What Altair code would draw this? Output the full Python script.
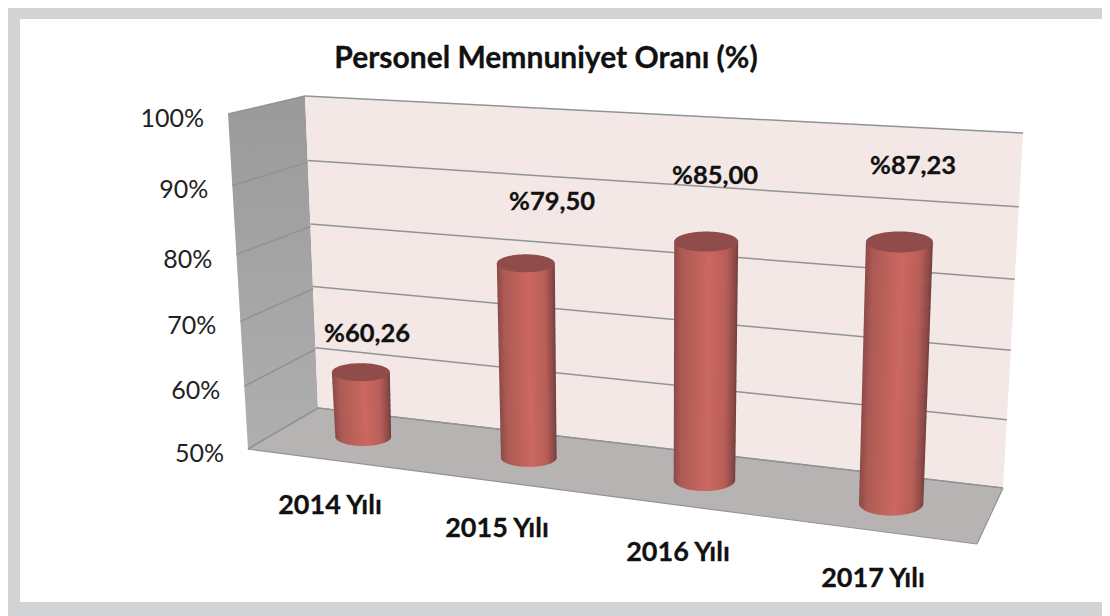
import altair as alt
import numpy as np
import pandas as pd

# ---- chart values
CATEGORIES = ["2014 Yılı", "2015 Yılı", "2016 Yılı", "2017 Yılı"]
VALUES = [60.26, 79.50, 85.00, 87.23]
VALUE_LABELS = ["%60,26", "%79,50", "%85,00", "%87,23"]
TICKS = [50, 60, 70, 80, 90, 100]
TICK_LABELS = ["50%", "60%", "70%", "80%", "90%", "100%"]
TITLE = "Personel Memnuniyet Oranı (%)"

# ---- layout (picture units)
W, H = 1094, 608
FRAME = [(20, 19), (1104, 19), (1104, 602), (20, 602)]
BACK = [(318, 408), (1003, 488), (1023, 133), (305, 96)]   # (u,v): 00,10,11,01
SIDE = [(248, 449), (318, 408), (305, 96), (228, 114)]
FLOOR = [(248, 449), (318, 408), (1003, 488), (977, 544)]
MID = [(284, 427), (989, 516), (1005, 155), (269, 105)]
RADII = [29, 29, 32, 33.5]
TOP_RY = [9, 9, 10, 10.5]
BOT_RY = [9, 9, 11, 12]
VALUE_X = [367, 552, 715, 913]
VALUE_Y = [334, 202, 176, 166]
CAT_X = [330, 497, 678, 873]
CAT_Y = [506, 529, 553, 579]
SLICES = 12


def homography(corners):
    src = [(0, 0), (1, 0), (1, 1), (0, 1)]
    A, b = [], []
    for (s, t), (x, y) in zip(src, corners):
        A.append([s, t, 1, 0, 0, 0, -s * x, -t * x]); b.append(x)
        A.append([0, 0, 0, s, t, 1, -s * y, -t * y]); b.append(y)
    h = np.linalg.solve(np.array(A, float), np.array(b, float))
    m = np.append(h, 1).reshape(3, 3)

    def project(u, value):
        p = m @ np.array([u, (value - 50) / 50, 1.0])
        return float(p[0] / p[2]), float(p[1] / p[2])
    return project


back = homography(BACK)
side = homography(SIDE)
mid = homography(MID)


def area_rows(poly, name):
    pts = list(poly)
    rows = []
    for x in sorted({p[0] for p in pts}):
        ys = []
        for a, b in zip(pts, pts[1:] + pts[:1]):
            lo, hi = sorted((a[0], b[0]))
            if lo <= x <= hi:
                if a[0] == b[0]:
                    ys += [a[1], b[1]]
                else:
                    ys.append(a[1] + (b[1] - a[1]) * (x - a[0]) / (b[0] - a[0]))
        rows.append({"part": name, "x": x, "y": min(ys), "y2": max(ys)})
    return rows


SX = alt.Scale(domain=[8, 8 + W], nice=False, zero=False)
SY = alt.Scale(domain=[8 + H, 8], nice=False, zero=False)
X = alt.X("x:Q", scale=SX, axis=None)
Y = alt.Y("y:Q", scale=SY, axis=None)
X2 = alt.X2("x2:Q")
Y2 = alt.Y2("y2:Q")


def poly(rows, **mark):
    return alt.Chart(pd.DataFrame(rows)).mark_area(interpolate="linear", **mark).encode(x=X, y=Y, y2=Y2)


def vgrad(a, b):
    return alt.Gradient(gradient="linear", x1=0, x2=0, y1=0, y2=1,
                        stops=[alt.GradientStop(offset=0, color=a), alt.GradientStop(offset=1, color=b)])


BODY = alt.Gradient(gradient="linear", x1=0, x2=1, y1=0, y2=0, stops=[
    alt.GradientStop(offset=0, color="#8a4a47"),
    alt.GradientStop(offset=0.12, color="#ad5a54"),
    alt.GradientStop(offset=0.55, color="#cb6860"),
    alt.GradientStop(offset=0.82, color="#b85e58"),
    alt.GradientStop(offset=0.95, color="#8b4a47"),
    alt.GradientStop(offset=1, color="#703e3c"),
])

layers = [
    poly(area_rows(FRAME, "frame"), color="white"),
    poly(area_rows(SIDE, "side"), color=vgrad("#9a9a9a", "#afafaf")),
    poly(area_rows(BACK, "back"), color="#f3e8e6"),
]

# gridlines
grid = []
for v in TICKS:
    a, b = side(0, v), side(1, v)
    grid.append({"x": a[0], "y": a[1], "x2": b[0], "y2": b[1]})
    a, b = back(0, v), back(1, v)
    grid.append({"x": a[0], "y": a[1], "x2": b[0], "y2": b[1]})
layers.append(poly(area_rows(FLOOR, "floor"), color="#b7b3b2"))
layers.append(alt.Chart(pd.DataFrame(grid)).mark_rule(color="#8f9494", strokeWidth=1.5)
              .encode(x=X, y=Y, x2=X2, y2=Y2))
edges = [{"x": a[0], "y": a[1], "x2": b[0], "y2": b[1]}
         for a, b in zip(FLOOR, FLOOR[1:] + FLOOR[:1])]
layers.append(alt.Chart(pd.DataFrame(edges)).mark_rule(color="#8f9494", strokeWidth=1.2)
              .encode(x=X, y=Y, x2=X2, y2=Y2))

# cylinders
theta = np.linspace(0, np.pi, 41)
for i, value in enumerate(VALUES):
    u = (i + 0.5) / 4
    bx, by = mid(u, 50)
    tx, ty = mid(u, value)
    r = RADII[i]
    rb = r * 0.96
    xs = -np.cos(theta)
    # lower rim first, then the slanted wall in overlapping slices so that the
    # horizontal shading follows the slant of the cylinder
    low = pd.DataFrame({"x": bx + rb * xs, "y": by - 1 + 0 * xs, "y2": by + BOT_RY[i] * np.sin(theta)})
    layers.append(poly(low.to_dict("records"), color=BODY))
    for k in range(SLICES):
        f0, f1 = k / SLICES, (k + 1) / SLICES
        y0 = ty + (by - ty) * f0
        y1 = ty + (by - ty) * f1 + (1.0 if k < SLICES - 1 else 0.0)
        c0 = tx + (bx - tx) * f0
        c1 = tx + (bx - tx) * f1
        r0 = r + (rb - r) * f0
        r1 = r + (rb - r) * f1
        body = pd.DataFrame([
            {"y": y0, "xl": c0 - r0, "xr": c0 + r0},
            {"y": y1, "xl": c1 - r1, "xr": c1 + r1},
        ])
        layers.append(alt.Chart(body).mark_area(orient="horizontal", color=BODY).encode(
            y=Y, x=alt.X("xl:Q", scale=SX, axis=None), x2=alt.X2("xr:Q")))
    top = pd.DataFrame({"x": tx + r * xs,
                        "y": ty - TOP_RY[i] * np.sin(theta),
                        "y2": ty + TOP_RY[i] * np.sin(theta)})
    layers.append(poly(top.to_dict("records"), color="#8f4c4a"))

# text
BOLD = dict(font="Lato", fontWeight="bold", color="#111111", stroke="#111111", strokeWidth=0.3,
            align="center", baseline="middle")
txt = alt.Chart(pd.DataFrame({"t": VALUE_LABELS, "x": VALUE_X, "y": VALUE_Y})).mark_text(
    fontSize=25.5, **BOLD).encode(x=X, y=Y, text="t:N")
cat = alt.Chart(pd.DataFrame({"t": CATEGORIES, "x": CAT_X, "y": CAT_Y})).mark_text(
    fontSize=27, **BOLD).encode(x=X, y=Y, text="t:N")
ticks = pd.DataFrame({"t": TICK_LABELS,
                      "x": [side(0, v)[0] - 24 for v in TICKS],
                      "y": [side(0, v)[1] + 5 for v in TICKS]})
tick = alt.Chart(ticks).mark_text(
    font="Lato", fontSize=25, color="#222222", align="right", baseline="middle"
).encode(x=X, y=Y, text="t:N")
ttl = alt.Chart(pd.DataFrame({"t": [TITLE], "x": [546], "y": [59]})).mark_text(
    fontSize=30, **BOLD).encode(x=X, y=Y, text="t:N")
layers += [txt, cat, tick, ttl]

chart = alt.layer(*layers).properties(
    width=W, height=H, background="#d1d3d4", padding=0,
    autosize=alt.AutoSizeParams(type="none"),
).configure_view(stroke=None)

chart.save("out.html", embed_options={"renderer": "svg", "actions": False})
